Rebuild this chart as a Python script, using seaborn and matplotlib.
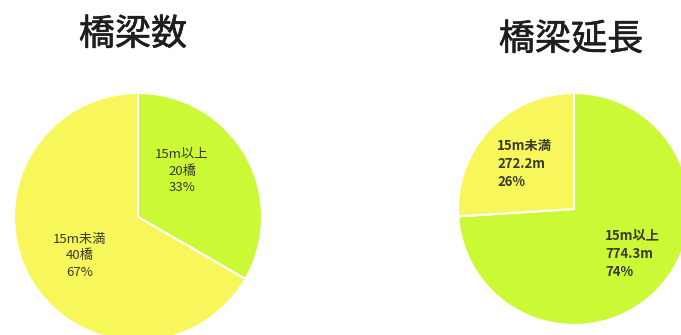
import matplotlib
matplotlib.use("Agg")
import matplotlib.pyplot as plt
import matplotlib.patheffects as pe
import seaborn as sns

sns.set_theme(style="white")
plt.rcParams['font.family'] = ['Noto Sans CJK JP', 'DejaVu Sans']

# data
categories = ["15m以上", "15m未満"]
count_values = [20, 40]
count_unit = "橋"
length_values = [774.3, 272.2]
length_unit = "m"
titles = ["橋梁数", "橋梁延長"]
colors = ["#cbf935", "#f7f75c"]

W, H = 681, 335
fig = plt.figure(figsize=(W / 100, H / 100), dpi=100)
ax = fig.add_axes([0, 0, 1, 1])

def Y(y):
    return H - y

def pct(vals):
    s = sum(vals)
    return [round(v / s * 100) for v in vals]

# left pie
ax.pie(count_values, colors=colors, startangle=90, counterclock=False,
       center=(138, Y(217)), radius=124,
       wedgeprops=dict(edgecolor="white", linewidth=1.5))
# right pie
ax.pie(length_values, colors=colors, startangle=90, counterclock=False,
       center=(574, Y(209)), radius=116,
       wedgeprops=dict(edgecolor="white", linewidth=1.5))
ax.set_xlim(0, W)
ax.set_ylim(0, H)
ax.set_aspect("equal")
ax.axis("off")

tc = "#3a3a2a"
fs = 9.5
cp = pct(count_values)
lp = pct(length_values)

ax.text(182, Y(171), f"{categories[0]}\n{count_values[0]}{count_unit}\n{cp[0]}%",
        ha="center", va="center", fontsize=fs, color=tc, linespacing=1.35)
ax.text(80, Y(256), f"{categories[1]}\n{count_values[1]}{count_unit}\n{cp[1]}%",
        ha="center", va="center", fontsize=fs, color=tc, linespacing=1.35)
ax.text(497, Y(164), f"{categories[1]}\n{length_values[1]}{length_unit}\n{lp[1]}%",
        ha="left", va="center", fontsize=fs, color=tc, linespacing=1.4,
        fontweight="bold")
ax.text(605, Y(254), f"{categories[0]}\n{length_values[0]}{length_unit}\n{lp[0]}%",
        ha="left", va="center", fontsize=fs, color=tc, linespacing=1.4,
        fontweight="bold")

thick = [pe.withStroke(linewidth=0.4, foreground="#1e1e1e")]
ax.text(133, Y(35), titles[0], ha="center", va="center", fontsize=26,
        color="#1e1e1e", fontweight="normal", path_effects=thick)
ax.text(571, Y(40), titles[1], ha="center", va="center", fontsize=26,
        color="#1e1e1e", fontweight="normal", path_effects=thick)

fig.savefig("out.png", dpi=100)
